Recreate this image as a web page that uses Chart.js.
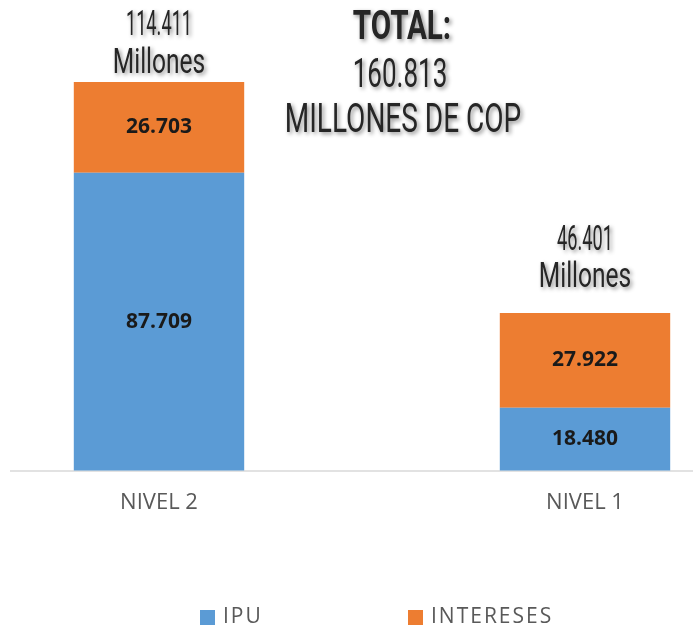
<!DOCTYPE html>
<html>
<head>
<meta charset="utf-8">
<script src="https://cdn.jsdelivr.net/npm/chart.js@4/dist/chart.umd.min.js"></script>
<style>
    html, body { margin: 0; padding: 0; background: #fff; }
    #wrap { width: 693px; height: 628px; }
</style>
</head>
<body>
<div id="wrap"><canvas id="chart"></canvas></div>
<script>
// ========================
// DATA
// ========================
const categories = ['NIVEL 2', 'NIVEL 1'];
const seriesNames = ['IPU', 'INTERESES'];
const ipuValues = [87709, 18480];
const interesesValues = [26703, 27922];
// totals as printed on the chart (millones de COP)
const categoryTotals = [114411, 46401];
const grandTotal = 160813;

const BLUE = '#5b9bd5';
const ORANGE = '#ed7d31';
const GREY_TEXT = '#595959';

// 87709 -> "87.709"
function fmt(v) {
    return String(v).replace(/\B(?=(\d{3})+(?!\d))/g, '.');
}

// narrow "Agency FB" look: squeeze the text horizontally, add soft shadow
function condensedText(ctx, text, x, y, font, sx) {
    ctx.save();
    ctx.font = font;
    ctx.textAlign = 'center';
    ctx.textBaseline = 'middle';
    ctx.shadowColor = 'rgba(0,0,0,0.45)';
    ctx.shadowBlur = 4;
    ctx.shadowOffsetX = 2;
    ctx.shadowOffsetY = 2;
    ctx.fillStyle = '#262626';
    ctx.translate(x, y);
    ctx.scale(sx, 1);
    ctx.fillText(text, 0, 0);
    ctx.restore();
}

// ========================
// PLUGINS
// ========================
const axisLine = {
    id: 'axisLine',
    beforeDatasetsDraw(chart) {
        const ctx = chart.ctx;
        const y = chart.chartArea.bottom + 0.5;
        ctx.save();
        ctx.strokeStyle = '#d9d9d9';
        ctx.lineWidth = 1.5;
        ctx.beginPath();
        ctx.moveTo(10, y);
        ctx.lineTo(chart.width, y);
        ctx.stroke();
        ctx.restore();
    }
};

const valueLabels = {
    id: 'valueLabels',
    afterDatasetsDraw(chart) {
        const ctx = chart.ctx;
        ctx.save();
        ctx.font = 'bold 21px "Open Sans"';
        ctx.fillStyle = '#1a1a1a';
        ctx.textAlign = 'center';
        ctx.textBaseline = 'middle';
        chart.data.datasets.forEach(function(ds, d) {
            chart.getDatasetMeta(d).data.forEach(function(bar, i) {
                ctx.fillText(fmt(ds.data[i]), bar.x, (bar.y + bar.base) / 2);
            });
        });
        ctx.restore();
    }
};

const totalLabels = {
    id: 'totalLabels',
    afterDatasetsDraw(chart) {
        const ctx = chart.ctx;
        const last = chart.data.datasets.length - 1;
        const numGap = [56, 72];
        const wordGap = [18, 35];
        chart.getDatasetMeta(last).data.forEach(function(bar, i) {
            condensedText(ctx, fmt(categoryTotals[i]), bar.x, bar.y - numGap[i], '35px Roboto', 0.52);
            condensedText(ctx, 'Millones', bar.x, bar.y - wordGap[i], '35px Roboto', 0.7);
        });
    }
};

const totalTitle = {
    id: 'totalTitle',
    afterDraw(chart) {
        const ctx = chart.ctx;
        condensedText(ctx, 'TOTAL:', 402, 29, 'bold 40px Roboto', 0.74);
        condensedText(ctx, fmt(grandTotal), 400, 77, '40px Roboto', 0.65);
        condensedText(ctx, 'MILLONES DE COP', 403, 122, '40px Roboto', 0.7);
    }
};

const bottomLegend = {
    id: 'bottomLegend',
    afterDraw(chart) {
        const ctx = chart.ctx;
        const starts = [200, 408];
        const y = 617;
        ctx.save();
        ctx.font = '21px "Open Sans"';
        ctx.letterSpacing = '2px';
        ctx.textBaseline = 'middle';
        ctx.textAlign = 'left';
        chart.data.datasets.forEach(function(ds, d) {
            ctx.fillStyle = ds.backgroundColor;
            ctx.fillRect(starts[d], y - 7, 15, 15);
            ctx.fillStyle = GREY_TEXT;
            ctx.fillText(ds.label, starts[d] + 23, y);
        });
        ctx.restore();
    }
};

// ========================
// CHART
// ========================
new Chart(document.getElementById('chart'), {
    type: 'bar',
    data: {
        labels: categories,
        datasets: [{
            label: seriesNames[0],
            data: ipuValues,
            backgroundColor: BLUE,
            categoryPercentage: 0.4,
            barPercentage: 1,
            clip: false
        }, {
            label: seriesNames[1],
            data: interesesValues,
            backgroundColor: ORANGE,
            categoryPercentage: 0.4,
            barPercentage: 1,
            clip: false
        }]
    },
    options: {
        responsive: true,
        maintainAspectRatio: false,
        animation: false,
        layout: { padding: { left: 159, right: 108, top: 20, bottom: 101 } },
        plugins: {
            legend: { display: false },
            tooltip: { enabled: false }
        },
        scales: {
            x: {
                stacked: true,
                offset: false,
                grid: { display: false },
                border: { display: false },
                ticks: {
                    color: GREY_TEXT,
                    font: { family: 'Open Sans', size: 22 },
                    padding: 11,
                    maxRotation: 0
                }
            },
            y: {
                stacked: true,
                display: false,
                min: 0,
                max: 132700
            }
        }
    },
    plugins: [axisLine, valueLabels, totalLabels, totalTitle, bottomLegend]
});
</script>
</body>
</html>
